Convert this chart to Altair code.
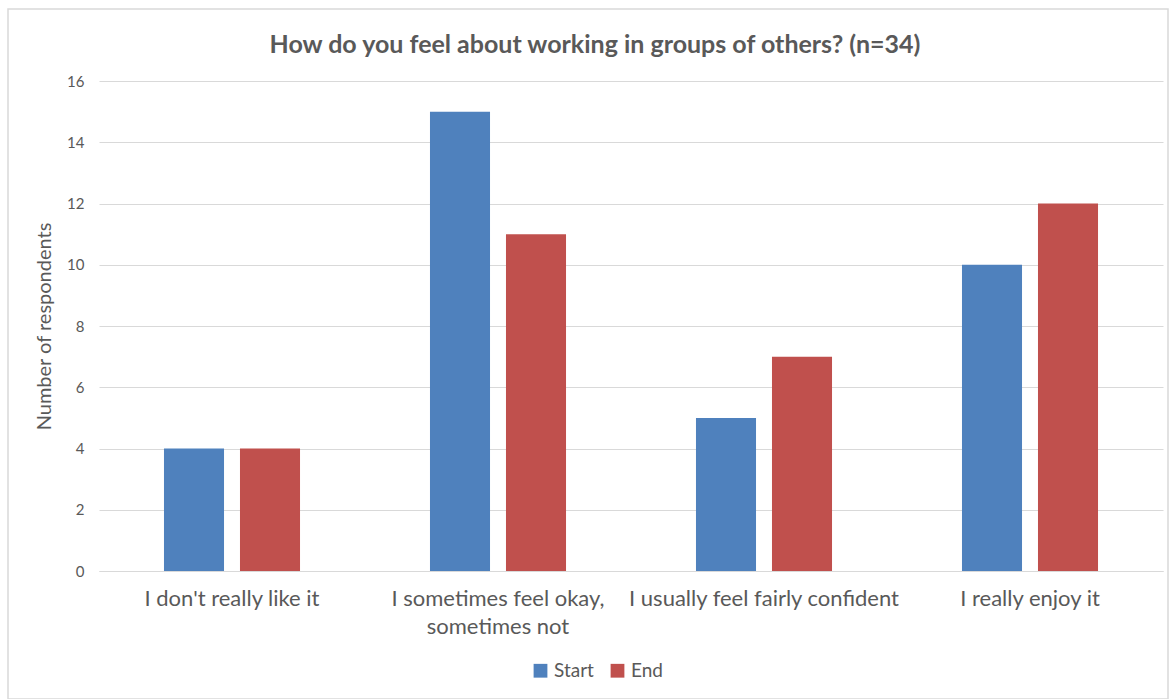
import altair as alt
import pandas as pd

categories = ["I don't really like it", "I sometimes feel okay, sometimes not",
              "I usually feel fairly confident", "I really enjoy it"]
start_vals = [4, 15, 5, 10]
end_vals = [4, 11, 7, 12]
series = ["Start", "End"]
colors = ["#4F81BD", "#C0504D"]
title_text = "How do you feel about working in groups of others? (n=34)"

rows = []
for c, s, e in zip(categories, start_vals, end_vals):
    rows.append({"cat": c, "series": "Start", "value": s})
    rows.append({"cat": c, "series": "End", "value": e})
df = pd.DataFrame(rows)

FONT = "Lato"
GREY = "#595959"

label_expr = ("datum.label == 'I sometimes feel okay, sometimes not' ? "
              "['I sometimes feel okay,', 'sometimes not'] : datum.label")

bars = alt.Chart(df).mark_bar().encode(
    x=alt.X("cat:N", sort=categories,
            scale=alt.Scale(paddingInner=0, paddingOuter=0),
            axis=alt.Axis(title=None, labelAngle=0, labelExpr=label_expr,
                          labelFontSize=22, labelColor=GREY, labelFont=FONT,
                          labelPadding=17, ticks=False, domainColor="#d9d9d9",
                          labelLineHeight=28, labelLimit=400)),
    xOffset=alt.XOffset("series:N", sort=series,
                        scale=alt.Scale(paddingInner=0.21, paddingOuter=0.855)),
    y=alt.Y("value:Q", scale=alt.Scale(domain=[0, 16]),
            axis=alt.Axis(title="Number of respondents", values=list(range(0, 17, 2)),
                          titleFontSize=20, titleFontWeight="normal", titleColor=GREY,
                          titleFont=FONT, titlePadding=12,
                          labelFontSize=15, labelColor=GREY, labelFont=FONT,
                          labelPadding=15, ticks=False, domain=False,
                          gridColor="#d9d9d9")),
    color=alt.Color("series:N", sort=series,
                    scale=alt.Scale(domain=series, range=colors),
                    legend=alt.Legend(title=None, orient="none", direction="horizontal",
                                      legendX=432, legendY=580, symbolType="square",
                                      symbolSize=190, symbolStrokeWidth=0,
                                      labelFontSize=19, labelColor=GREY, labelFont=FONT,
                                      columnPadding=14, labelOffset=4)),
)

border = alt.Chart(pd.DataFrame({"a": [0]})).mark_rect(
    fill=None, stroke="#d9d9d9", strokeWidth=1.5
).encode(x=alt.value(-91), x2=alt.value(1069), y=alt.value(-72), y2=alt.value(618))

title = alt.Chart(pd.DataFrame({"t": [title_text]})).mark_text(
    font=FONT, fontSize=25, fontWeight="bold", color=GREY, baseline="middle", align="center"
).encode(text="t:N", x=alt.value(496), y=alt.value(-36))

chart = alt.layer(border, bars, title).properties(
    width=1064, height=490,
    autosize=alt.AutoSizeParams(type="none"),
    padding={"left": 99, "top": 81, "right": 8, "bottom": 128},
    background="white",
).configure_view(stroke=None)

chart.save("out.html", embed_options={"renderer": "svg", "actions": False})
